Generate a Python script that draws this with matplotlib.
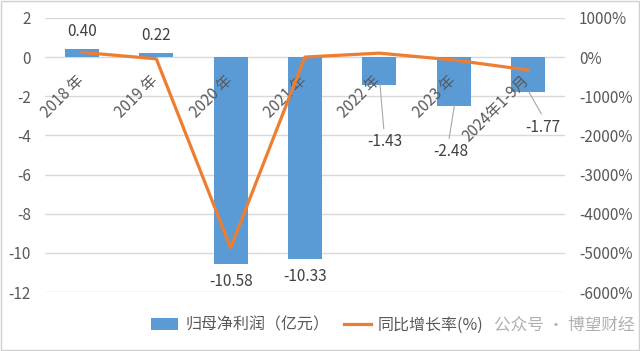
import matplotlib
matplotlib.use("Agg")
import matplotlib.pyplot as plt
from matplotlib.patches import Patch
from matplotlib.lines import Line2D

plt.rcParams['font.family'] = ['Noto Sans CJK SC', 'DejaVu Sans']

# data
years = ['2018 年', '2019 年', '2020 年', '2021 年', '2022 年', '2023 年', '2024年1-9月']
profit = [0.40, 0.22, -10.58, -10.33, -1.43, -2.48, -1.77]
growth = [120, -45, -4870, 0, 100, -75, -330]
left_ticks = [2, 0, -2, -4, -6, -8, -10, -12]
right_ticks = [1000, 0, -1000, -2000, -3000, -4000, -5000, -6000]

blue = '#5B9BD5'
orange = '#ED7D31'
grey = '#595959'

fig = plt.figure(figsize=(6.4, 3.51), dpi=100)
ax = fig.add_axes([0.070, 0.168, 0.813, 0.781])
x = list(range(len(years)))

ax.bar(x, profit, width=0.46, color=blue, zorder=2)
ax.set_xlim(-0.5, len(years) - 0.5)
ax.set_ylim(-12, 2)
ax.set_yticks(left_ticks)
ax.set_yticklabels([str(t) for t in left_ticks])
ax.grid(axis='y', color='#d9d9d9', linewidth=1, zorder=0)
ax.set_xticks([])
for s in ax.spines.values():
    s.set_visible(False)
ax.tick_params(axis='y', length=0, labelcolor=grey, labelsize=11, pad=10)

# category labels sit along the zero line
for i, lab in enumerate(years):
    ax.text(i + 0.07, -0.75, lab, rotation=45, ha='right', va='top',
            fontsize=11, color=grey, zorder=4)

# data labels
for i, v in enumerate(profit):
    if v > 0:
        ax.text(i, v + 0.45, f'{v:.2f}', ha='center', va='bottom', fontsize=11, color='#404040')
    elif v < -5:
        ax.text(i, v - 0.45, f'{v:.2f}', ha='center', va='top', fontsize=11, color='#404040')

# labels pulled out with leader lines
callouts = {4: (0.08, -3.9), 5: (-0.04, -4.4), 6: (0.2, -3.15)}
for i, (dx, ly) in callouts.items():
    ax.plot([i + 0.01, i + dx - 0.02], [profit[i], ly + 0.25], color='#a6a6a6', linewidth=0.8, zorder=3)
    ax.text(i + dx, ly, f'{profit[i]:.2f}', ha='center', va='top', fontsize=11, color='#404040', zorder=4)

ax2 = ax.twinx()
ax2.plot(x, growth, color=orange, linewidth=2.3, zorder=5)
ax2.set_ylim(-6000, 1000)
ax2.set_yticks(right_ticks)
ax2.set_yticklabels([f'{t}%' for t in right_ticks])
ax2.tick_params(axis='y', length=0, labelcolor=grey, labelsize=11, pad=10)
for s in ax2.spines.values():
    s.set_visible(False)

handles = [Patch(facecolor=blue), Line2D([0], [0], color=orange, linewidth=2.3)]
fig.legend(handles, ['归母净利润（亿元）', '同比增长率(%)'], loc='center left', ncol=2,
           bbox_to_anchor=(0.236, 0.074), frameon=False, fontsize=11.5, borderpad=0,
           borderaxespad=0, labelcolor=grey, handlelength=1.7, handletextpad=0.45,
           columnspacing=0.9)
fig.text(0.772, 0.074, '公众号 · 博望财经', ha='left', va='center', fontsize=12, color='#b0b0b0')

fig.patches.append(plt.Rectangle((0.001, 0.002), 0.997, 0.995, transform=fig.transFigure,
                                 fill=False, edgecolor='#d0d0d0', linewidth=1))
fig.savefig('out.png', dpi=100)
